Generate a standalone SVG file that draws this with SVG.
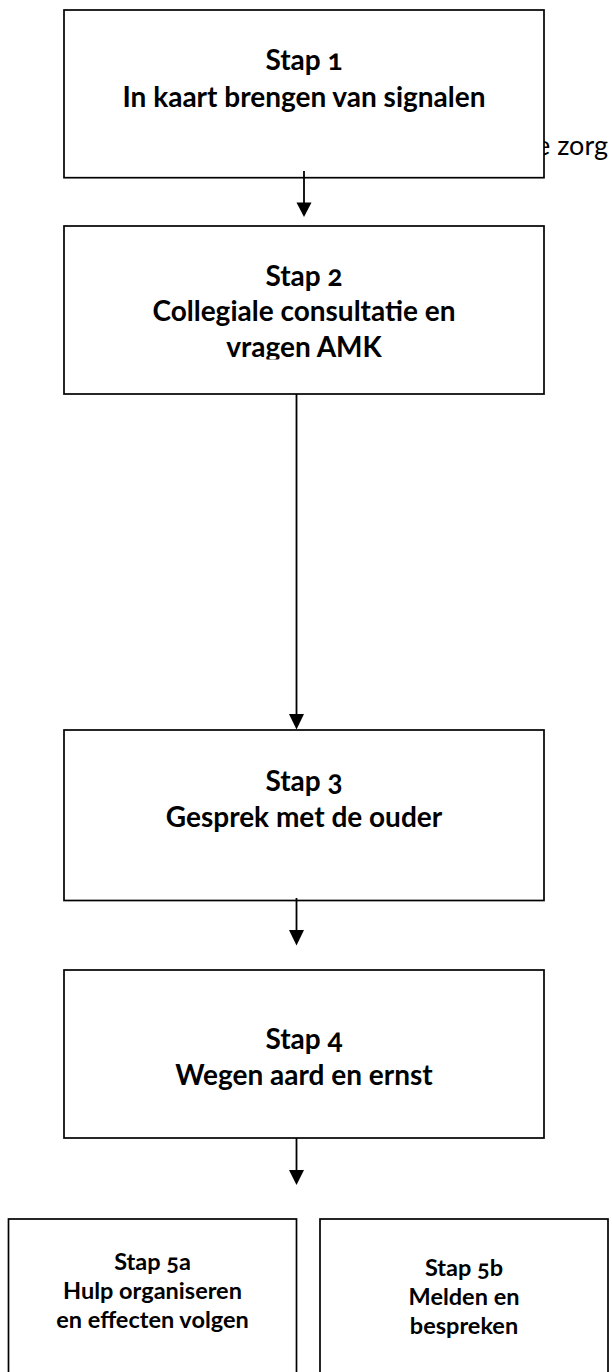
<svg xmlns="http://www.w3.org/2000/svg" width="612" height="1372" viewBox="0 0 612 1372">
<defs>
<style>
.box{fill:#fff;stroke:#000;stroke-width:1.7}
.t{font-family:Lato,"Liberation Sans",sans-serif;font-weight:bold;font-size:28px;fill:#000;text-anchor:middle;font-variant-numeric:oldstyle-nums}
.s{font-family:Lato,"Liberation Sans",sans-serif;font-weight:bold;font-size:23.5px;fill:#000;text-anchor:middle;font-variant-numeric:oldstyle-nums}
.bg{font-family:Lato,"Liberation Sans",sans-serif;font-size:27px;fill:#000}
.c{stroke:#000;stroke-width:1.8;fill:none}
.h{fill:#000}
</style>
<clipPath id="clip2"><rect x="64" y="226" width="480" height="133.5"/></clipPath>
</defs>
<text class="bg" x="536" y="155">e zorg</text>
<g id="step1">
<rect class="box" x="64" y="10" width="480" height="167.7"/>
<text class="t" x="304" y="70">Stap 1</text>
<text class="t" x="304" y="106.5">In kaart brengen van signalen</text>
</g>
<g id="step2">
<rect class="box" x="64" y="226" width="480" height="168"/>
<g clip-path="url(#clip2)">
<text class="t" x="304" y="286">Stap 2</text>
<text class="t" x="304" y="321">Collegiale consultatie en</text>
<text class="t" x="304" y="356.5">vragen AMK</text>
</g>
</g>
<g id="step3">
<rect class="box" x="64" y="730" width="480" height="170.5"/>
<text class="t" x="304" y="791">Stap 3</text>
<text class="t" x="304" y="827">Gesprek met de ouder</text>
</g>
<g id="step4">
<rect class="box" x="64" y="970" width="480" height="168"/>
<text class="t" x="304" y="1049">Stap 4</text>
<text class="t" x="304" y="1085">Wegen aard en ernst</text>
</g>
<g id="step5a">
<rect class="box" x="8.5" y="1219" width="288" height="200"/>
<text class="s" x="152.5" y="1270">Stap 5a</text>
<text class="s" x="152.5" y="1299">Hulp organiseren</text>
<text class="s" x="152.5" y="1328">en effecten volgen</text>
</g>
<g id="step5b">
<rect class="box" x="320" y="1219" width="288" height="200"/>
<text class="s" x="464" y="1276">Stap 5b</text>
<text class="s" x="464" y="1305">Melden en</text>
<text class="s" x="464" y="1334">bespreken</text>
</g>
<g id="connectors">
<line class="c" x1="304" y1="171" x2="304" y2="204"/>
<polygon class="h" points="296.5,202.5 311.5,202.5 304,217"/>
<line class="c" x1="296.5" y1="394" x2="296.5" y2="716"/>
<polygon class="h" points="289,714 304,714 296.5,729.5"/>
<line class="c" x1="296.5" y1="898" x2="296.5" y2="932"/>
<polygon class="h" points="289,930 304,930 296.5,945.5"/>
<line class="c" x1="296.5" y1="1138" x2="296.5" y2="1172"/>
<polygon class="h" points="289,1170 304,1170 296.5,1185"/>
</g>
</svg>
